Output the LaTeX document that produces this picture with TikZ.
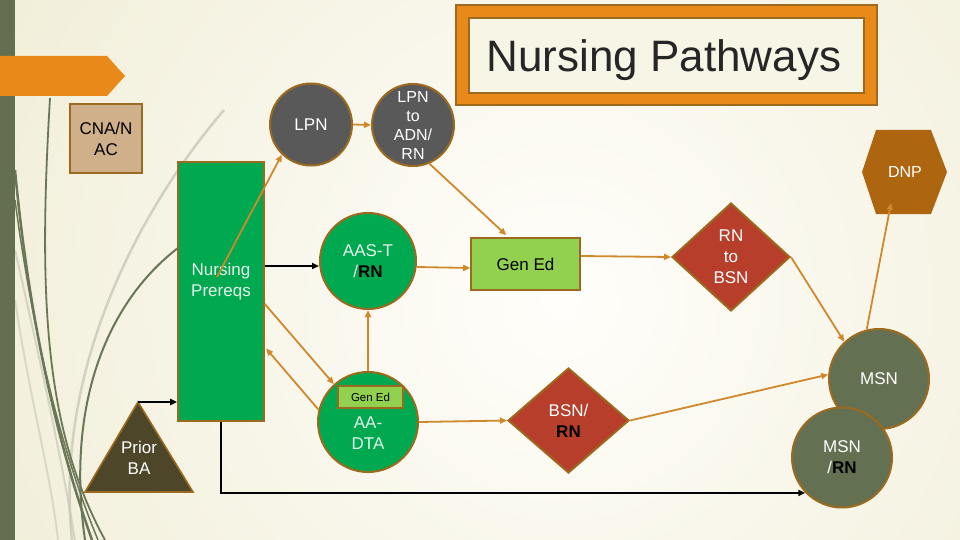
\documentclass[tikz,border=0pt]{standalone}
\usepackage{fontspec}
\setmainfont{Liberation Sans}
\usetikzlibrary{shapes.geometric,arrows.meta}
\definecolor{bgin}{HTML}{FFFEFA}
\definecolor{bgout}{HTML}{EBE7CB}
\definecolor{strip}{HTML}{646F4F}
\definecolor{orng}{HTML}{E8891A}
\definecolor{brd}{HTML}{9C6A1E}
\definecolor{tan}{HTML}{CFB08A}
\definecolor{dgray}{HTML}{595959}
\definecolor{grn}{HTML}{00A850}
\definecolor{lgrn}{HTML}{92D050}
\definecolor{redb}{HTML}{B73E2A}
\definecolor{olive}{HTML}{637152}
\definecolor{dnpc}{HTML}{AD650F}
\definecolor{triC}{HTML}{4D4628}
\definecolor{arrc}{HTML}{D0882C}
\definecolor{ltext}{HTML}{E6F5EC}
\definecolor{ttext}{HTML}{262626}
\definecolor{cream}{HTML}{F7F5E6}
\definecolor{deco}{HTML}{6A7658}
\definecolor{decol}{HTML}{C9C9B8}
\begin{document}
\begin{tikzpicture}[x=1pt,y=-1pt,
  txt/.style={font=\fontsize{17}{21}\selectfont, align=center, inner sep=0pt},
  shp/.style={txt, draw=brd, line width=1.6pt},
  circ/.style={shp, circle, line width=2pt},
  dia/.style={shp, diamond, line width=2pt},
  oarrow/.style={draw=arrc, line width=1.8pt, -{Triangle[length=7pt,width=6pt]}},
  barrow/.style={draw=black, line width=1.8pt, -{Triangle[length=7pt,width=6pt]}}]
\useasboundingbox (0,0) rectangle (960,540);
% background
\begin{scope}
\clip (0,0) rectangle (960,540);
\shade[inner color=bgin, outer color=bgout] (560,300) circle (900);
% decorative curves
\draw[decol, line width=2.5pt, opacity=0.8] (224,110) .. controls (130,220) and (55,380) .. (72,540);
\draw[decol, line width=2pt, opacity=0.7] (15,250) .. controls (40,360) and (60,450) .. (75,540);
\draw[decol, line width=2pt, opacity=0.6] (15,300) .. controls (30,400) and (50,470) .. (58,540);
\draw[deco, line width=1.8pt] (50,98) .. controls (38,300) and (45,430) .. (105,540);
\draw[deco, line width=2.5pt] (15,170) .. controls (30,330) and (60,450) .. (92,540);
\draw[deco, line width=1.5pt] (15,200) .. controls (35,350) and (65,460) .. (98,540);
\draw[deco, line width=2pt] (178,248) .. controls (110,300) and (65,400) .. (85,540);
\end{scope}
\fill[strip] (0,0) rectangle (15,540);
% banner
\fill[orng] (0,56) -- (107,56) -- (125,76) -- (107,96) -- (0,96) -- cycle;
% title
\draw[fill=orng, draw=brd, line width=1.2pt] (456,5) rectangle (877,105);
\draw[fill=cream, draw=brd, line width=1.2pt] (469,18) rectangle (864,93);
\node[font=\fontsize{44}{50}\selectfont, text=ttext, anchor=base, inner sep=0pt] (title) at (664,72) {Nursing Pathways};
% CNA box
\node[shp, fill=tan, minimum width=72pt, minimum height=69pt] (cna) at (106,138.5) {CNA/N\\AC};
% LPN circles
\node[circ, fill=dgray, text=white, minimum size=82pt] (lpn) at (311,124.5) {LPN};
\node[circ, fill=dgray, text=white, minimum size=82pt, font=\fontsize{16}{19}\selectfont] (lpnadn) at (413,125) {LPN\\to\\ADN/\\RN};
% prereqs
\node[shp, fill=grn, minimum width=86pt, minimum height=259pt] (prereq) at (221,291.5) {};
\node[txt, text=ltext] (prereqtext) at (221,282) {Nursing\\Prereqs};
% AAS-T
\node[circ, fill=grn, text=ltext, minimum size=96pt] (aast) at (368,261) {AAS-T\\/\textbf{\textcolor{black}{RN}}};
% AA-DTA
\node[circ, fill=grn, minimum size=100pt] (aadta) at (368,422) {};
\node[txt, text=ltext] (aadtatext) at (368,433) {AA-\\DTA};
\node[shp, fill=lgrn, minimum width=65pt, minimum height=22pt, font=\fontsize{11.5}{13}\selectfont, line width=1.4pt] (smallgen) at (370.5,397) {Gen Ed};
% Gen Ed
\node[shp, fill=lgrn, minimum width=109pt, minimum height=52pt] (gened) at (525.5,264) {Gen Ed};
% diamonds
\node[dia, fill=redb, text=white, minimum width=118pt, minimum height=108pt] (rnbsn) at (731,257) {RN\\to\\BSN};
\node[dia, fill=redb, text=white, minimum width=121pt, minimum height=105pt] (bsnrn) at (568.5,420.5) {BSN/\\\textbf{\textcolor{black}{RN}}};
% MSN
\node[circ, fill=olive, text=white, minimum size=100pt] (msn) at (879,379) {MSN};
\node[circ, fill=olive, text=white, minimum size=100pt] (msnrn) at (842,457.5) {MSN\\/\textbf{\textcolor{black}{RN}}};
% DNP
\fill[dnpc] (862,172) -- (876,130) -- (931,130) -- (947,172) -- (931,214) -- (876,214) -- cycle;
\node[txt, text=white, font=\fontsize{16}{19}\selectfont] (dnp) at (905,172) {DNP};
\coordinate (dnpbot) at (891,203);
% Prior BA
\draw[fill=triC, draw=brd, line width=1.6pt] (138,402) -- (193,492) -- (85,492) -- cycle;
\coordinate (apex) at (138,402);
\node[txt, text=white] (prior) at (139,458) {Prior\\BA};
\coordinate (prstart) at (217,277);
% connectors
\draw[oarrow] (prstart) -- (lpn.226);
\draw[oarrow] (lpn.east) -- (lpnadn.west);
\draw[oarrow, shorten >=3pt] (lpnadn.293) -- ([xshift=-17pt]gened.north);
\draw[barrow] ([yshift=25.5pt]prereq.east) -- ([yshift=-5pt]aast.west);
\draw[oarrow] ([yshift=-6pt]aast.east) -- ([yshift=-4pt]gened.west);
\draw[oarrow] ([yshift=8pt]gened.east) -- (rnbsn.west);
\draw[oarrow] (rnbsn.east) -- (msn.133);
\draw[oarrow] (bsnrn.east) -- (msn.175);
\draw[oarrow] (msn.104) -- (dnpbot);
\draw[oarrow] (aadta.north) -- (aast.south);
\draw[oarrow] ([yshift=-12.5pt]prereq.east) -- (aadta.132);
\draw[oarrow, shorten >=2pt] (aadta.166) -- ([yshift=-55.5pt]prereq.east);
\draw[oarrow] (aadta.east) -- (bsnrn.west);
\draw[barrow] (apex) -- (apex -| prereq.west);
\draw[barrow] (prereq.south) |- (msnrn.224);
\end{tikzpicture}
\end{document}
